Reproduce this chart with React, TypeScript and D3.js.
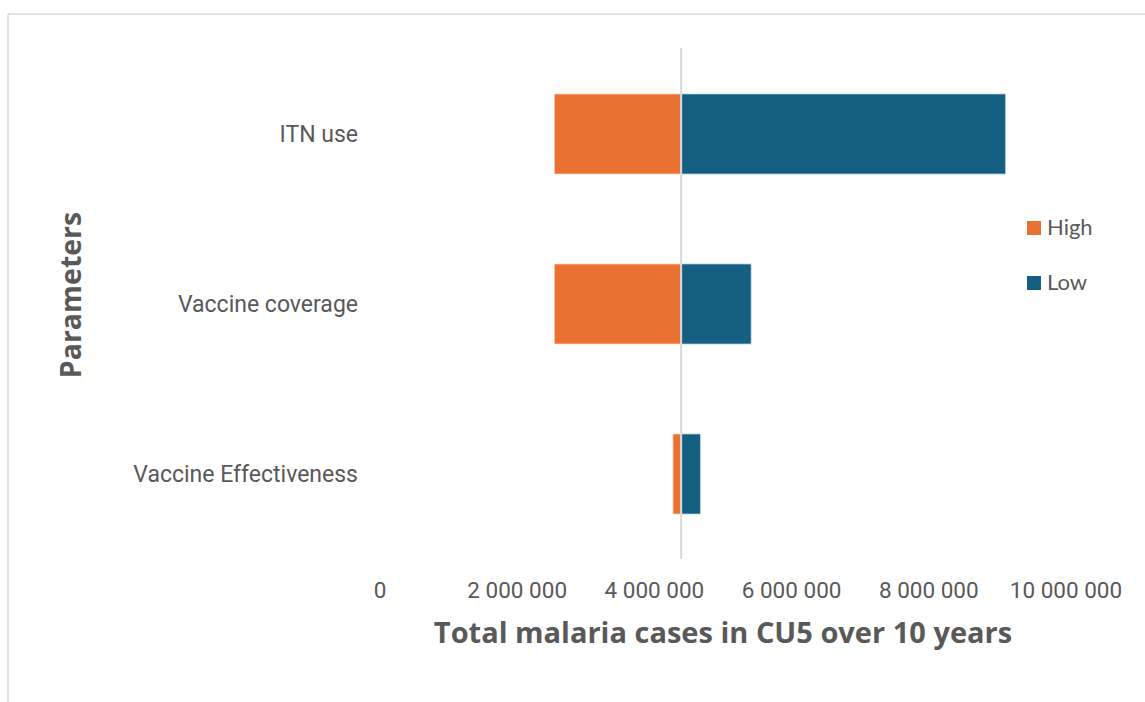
import React from "react";
import * as d3 from "d3";

const categories = ["ITN use", "Vaccine coverage", "Vaccine Effectiveness"];
const baseline = 4390000;
const highValues = [2540000, 2540000, 4270000];
const lowValues = [9120000, 5410000, 4670000];
const tickValues = [0, 2000000, 4000000, 6000000, 8000000, 10000000];
const seriesNames = ["High", "Low"];
const seriesColors = ["#E97132", "#156082"];

const W = 1145;
const H = 702;
const TEXT = "#595959";

const fmt = (v: number) => d3.format(",")(v).replace(/,/g, " ");

export default function App() {
  const x = d3.scaleLinear().domain([0, 10000000]).range([380, 1066]);
  const y = d3.scaleBand<string>().domain(categories).range([49, 559]).paddingInner(0.529).paddingOuter(0.2645);
  const bx = x(baseline);
  return (
    <svg width={W} height={H} style={{ position: "absolute", left: 0, top: 0, background: "#fff" }}>
      <rect x={0} y={0} width={W} height={H} fill="#fff" />
      <line x1={8} y1={14} x2={W} y2={14} stroke="#d9d9d9" strokeWidth={1.5} />
      <line x1={8} y1={14} x2={8} y2={H} stroke="#d9d9d9" strokeWidth={1.5} />
      {categories.map((c, i) => {
        const yy = y(c)!;
        const lo = Math.min(highValues[i], baseline);
        const hi = Math.max(lowValues[i], baseline);
        return (
          <g key={c}>
            <rect x={x(lo)} y={yy} width={bx - x(lo)} height={y.bandwidth()} fill={seriesColors[0]} stroke="#fbe3d6" strokeWidth={0.75} />
            <rect x={bx} y={yy} width={x(hi) - bx} height={y.bandwidth()} fill={seriesColors[1]} stroke="#c0d6e4" strokeWidth={0.75} />
            <text x={358} y={yy + y.bandwidth() / 2} dy="0.35em" textAnchor="end" fill={TEXT}
              style={{ fontFamily: "Roboto", fontSize: 23 }}>{c}</text>
          </g>
        );
      })}
      <line x1={bx} y1={48} x2={bx} y2={559} stroke="#d9d9d9" strokeWidth={2} />
      {tickValues.map((t) => (
        <text key={t} x={x(t)} y={598} textAnchor="middle" fill={TEXT}
          style={{ fontFamily: "Roboto", fontSize: 22.5 }}>{fmt(t)}</text>
      ))}
      <text x={723} y={643} textAnchor="middle" fill={TEXT}
        style={{ fontFamily: "Open Sans", fontSize: 29, fontWeight: 700 }}>Total malaria cases in CU5 over 10 years</text>
      <text transform={`translate(81,295) rotate(-90)`} textAnchor="middle" fill={TEXT}
        style={{ fontFamily: "Open Sans", fontSize: 28.5, fontWeight: 700 }}>Parameters</text>
      {seriesNames.map((s, i) => (
        <g key={s} transform={`translate(1027,${221 + i * 55})`}>
          <rect x={0} y={0} width={14} height={14} fill={seriesColors[i]} />
          <text x={20} y={14} fill={TEXT} style={{ fontFamily: "Lato", fontSize: 22 }}>{s}</text>
        </g>
      ))}
    </svg>
  );
}
